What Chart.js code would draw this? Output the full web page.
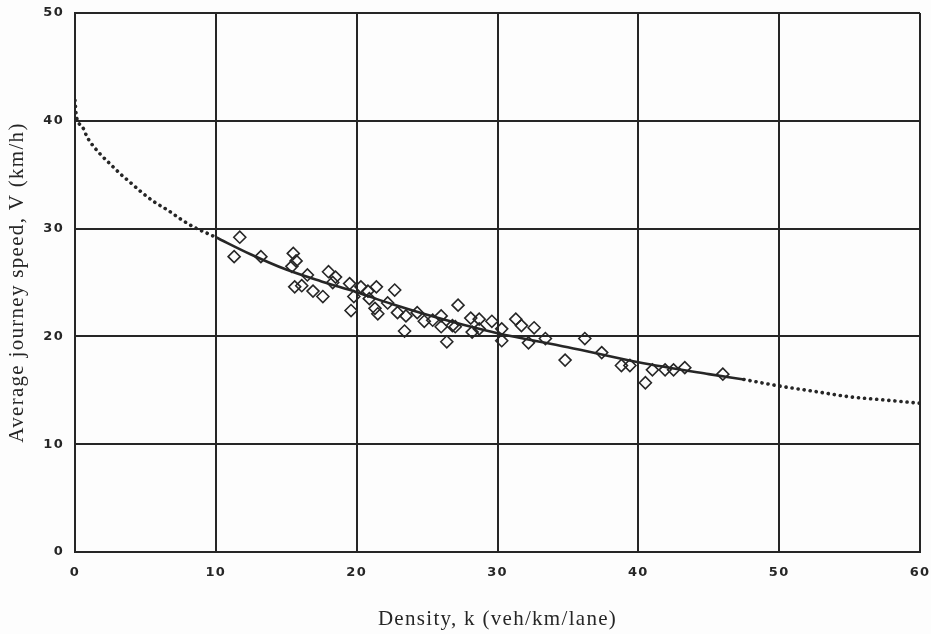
<!DOCTYPE html>
<html lang="en">
<head>
  <meta charset="UTF-8">
  <title>Speed-density relationship</title>
  <style>
    body {
      margin: 0;
      background-color: #fdfdfd;
    }
    canvas {
      display: block;
    }
  </style>
  <script src="https://cdn.jsdelivr.net/npm/chart.js"></script>
</head>
<body>
<canvas id="speedDensityChart" width="931" height="634"></canvas>

<script>
  // Observed points (density in veh/km/lane, speed in km/h)
  const densityObs = [11.7, 11.3, 13.2, 15.5, 15.7, 15.4, 16.5, 15.6, 16.1, 16.9,
    17.6, 18.0, 18.5, 18.3, 19.5, 19.8, 19.6, 20.3, 20.8, 20.9,
    21.4, 21.3, 21.5, 22.2, 22.7, 22.9, 23.5, 23.4, 24.3, 24.8,
    25.4, 26.0, 26.0, 26.4, 26.8, 27.0, 27.2, 28.1, 28.2, 28.7,
    28.7, 29.6, 30.3, 30.3, 31.3, 31.7, 32.6, 32.2, 33.4, 34.8,
    36.2, 37.4, 38.8, 39.4, 40.5, 41.0, 41.9, 42.5, 43.3, 46.0];
  const speedObs = [29.2, 27.4, 27.4, 27.7, 27.0, 26.5, 25.7, 24.6, 24.7, 24.2,
    23.7, 26.0, 25.5, 25.0, 24.9, 23.7, 22.4, 24.6, 24.2, 23.5,
    24.6, 22.6, 22.1, 23.1, 24.3, 22.2, 21.9, 20.5, 22.2, 21.4,
    21.5, 21.9, 20.9, 19.5, 21.0, 20.9, 22.9, 21.7, 20.4, 21.6,
    20.7, 21.4, 20.7, 19.6, 21.6, 21.0, 20.8, 19.4, 19.8, 17.8,
    19.8, 18.5, 17.3, 17.3, 15.7, 16.9, 16.9, 16.9, 17.1, 16.5];

  // Fitted curve: dotted below 10, solid 10-47.5, dotted above
  const lowDensity = [0, 0.1, 0.5, 0.9, 1.8, 2.5, 3.2, 4.0, 4.7, 5.6, 6.6, 7.6, 8.5, 9.5, 10];
  const lowSpeed = [41.9, 40.4, 39.5, 38.4, 36.9, 36.0, 35.1, 34.2, 33.4, 32.5, 31.7, 30.8, 30.1, 29.5, 29.2];
  const fitDensity = [10, 12.5, 15, 17.5, 20, 22.5, 25, 27.5, 30, 35, 40, 45, 47.5];
  const fitSpeed = [29.2, 27.6, 26.2, 25.1, 24.1, 23.0, 22.0, 21.1, 20.3, 19.0, 17.6, 16.5, 16.0];
  const highDensity = [47.5, 50, 52.5, 55, 57.5, 60];
  const highSpeed = [16.0, 15.4, 14.9, 14.4, 14.1, 13.8];

  const xTicks = [0, 10, 20, 30, 40, 50, 60];
  const yTicks = [0, 10, 20, 30, 40, 50];

  const ink = '#262626';

  function toPoints(xs, ys) {
    return xs.map((x, i) => ({ x: x, y: ys[i] }));
  }

  const curveStyle = {
    type: 'line',
    showLine: true,
    pointRadius: 0,
    borderColor: ink,
    cubicInterpolationMode: 'monotone',
    fill: false
  };

  const dottedStyle = Object.assign({}, curveStyle, {
    borderWidth: 3.6,
    borderDash: [0.1, 6],
    borderCapStyle: 'round'
  });

  // letter spacing for the scanned-print look
  const spacingPlugin = {
    id: 'spacing',
    beforeDraw(chart) {
      chart.ctx.letterSpacing = '1.3px';
    }
  };

  const config = {
    type: 'scatter',
    data: {
      datasets: [
        {
          label: 'Observed',
          data: toPoints(densityObs, speedObs),
          pointStyle: 'rectRot',
          pointRadius: 6,
          borderWidth: 1.6,
          borderColor: ink,
          backgroundColor: 'rgba(0,0,0,0)'
        },
        Object.assign({ label: 'Fit (low)', data: toPoints(lowDensity, lowSpeed) }, dottedStyle),
        Object.assign({ label: 'Fit', data: toPoints(fitDensity, fitSpeed), borderWidth: 2.6 }, curveStyle),
        Object.assign({ label: 'Fit (high)', data: toPoints(highDensity, highSpeed) }, dottedStyle)
      ]
    },
    plugins: [spacingPlugin],
    options: {
      responsive: false,
      animation: false,
      layout: {
        padding: { top: 13, right: 11, left: 0, bottom: 0 }
      },
      plugins: {
        legend: { display: false },
        tooltip: { enabled: false }
      },
      scales: {
        x: {
          type: 'linear',
          min: 0,
          max: 60,
          afterFit(scale) {
            scale.height = 82;
            scale.paddingLeft = 0;
            scale.paddingRight = 0;
          },
          afterBuildTicks(scale) { scale.ticks = xTicks.map(v => ({ value: v })); },
          grid: { color: ink, lineWidth: 2, drawTicks: false },
          border: { color: ink, width: 2 },
          ticks: {
            color: ink,
            padding: 13,
            font: { family: 'DejaVu Sans', size: 13, weight: 'bold' }
          },
          title: {
            display: true,
            text: 'Density, k (veh/km/lane)',
            color: ink,
            padding: { top: 0, bottom: 2 },
            font: { family: 'Liberation Serif', size: 21 }
          }
        },
        y: {
          type: 'linear',
          min: 0,
          max: 50,
          afterFit(scale) {
            scale.width = 75;
            scale.paddingTop = 0;
            scale.paddingBottom = 0;
          },
          afterBuildTicks(scale) { scale.ticks = yTicks.map(v => ({ value: v })); },
          grid: { color: ink, lineWidth: 2, drawTicks: false },
          border: { color: ink, width: 2 },
          ticks: {
            color: ink,
            padding: 11,
            font: { family: 'DejaVu Sans', size: 13, weight: 'bold' }
          },
          title: {
            display: true,
            text: 'Average journey speed, V (km/h)',
            color: ink,
            padding: { top: 5, bottom: 0 },
            font: { family: 'Liberation Serif', size: 21 }
          }
        }
      }
    }
  };

  const ctx = document.getElementById('speedDensityChart').getContext('2d');
  new Chart(ctx, config);
</script>
</body>
</html>
